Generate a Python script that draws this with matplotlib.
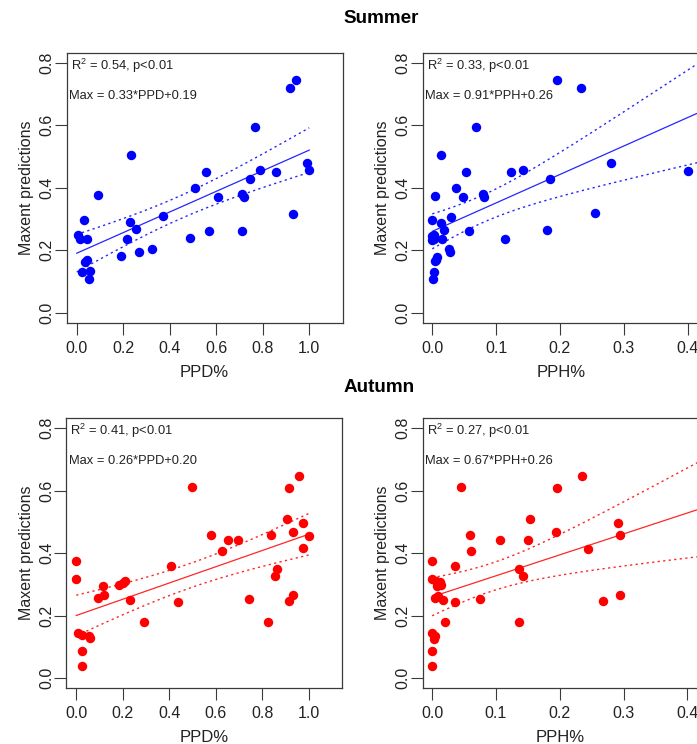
import numpy as np
import matplotlib
matplotlib.use("Agg")
import matplotlib.pyplot as plt

plt.rcParams['font.family'] = ['Liberation Sans', 'DejaVu Sans']
plt.rcParams['mathtext.fontset'] = 'custom'
plt.rcParams['mathtext.rm'] = 'Liberation Sans'
plt.rcParams['mathtext.it'] = 'Liberation Sans:italic'
plt.rcParams['mathtext.bf'] = 'Liberation Sans:bold'

# ---------------- data ----------------
summer_ppd = [0.004, 0.014, 0.033, 0.046, 0.036, 0.046, 0.021, 0.057, 0.054, 0.093,
              0.189, 0.218, 0.229, 0.234, 0.255, 0.266, 0.325, 0.372, 0.487, 0.509,
              0.556, 0.569, 0.606, 0.709, 0.721, 0.709, 0.745, 0.766, 0.788, 0.857,
              0.918, 0.944, 0.928, 0.989, 1.000]
summer_ppd_y = [0.248, 0.237, 0.297, 0.234, 0.163, 0.168, 0.129, 0.134, 0.107, 0.375,
                0.181, 0.235, 0.290, 0.505, 0.266, 0.194, 0.203, 0.308, 0.238, 0.400,
                0.449, 0.262, 0.371, 0.379, 0.371, 0.262, 0.427, 0.595, 0.455, 0.449,
                0.720, 0.745, 0.317, 0.478, 0.455]

summer_pph = [0.000, 0.000, 0.000, 0.002, 0.004, 0.013, 0.014, 0.015, 0.018, 0.004,
              0.007, 0.003, 0.001, 0.026, 0.028, 0.029, 0.037, 0.048, 0.053, 0.057,
              0.069, 0.079, 0.081, 0.114, 0.123, 0.142, 0.179, 0.184, 0.196, 0.233,
              0.255, 0.280, 0.400, 0.006, 0.002]
summer_pph_y = [0.297, 0.244, 0.233, 0.235, 0.374, 0.503, 0.288, 0.235, 0.265, 0.164,
                0.178, 0.130, 0.108, 0.203, 0.194, 0.307, 0.399, 0.371, 0.449, 0.262,
                0.595, 0.379, 0.371, 0.237, 0.449, 0.455, 0.263, 0.426, 0.745, 0.720,
                0.318, 0.478, 0.454, 0.168, 0.248]

autumn_ppd = [0.000, 0.000, 0.007, 0.026, 0.026, 0.026, 0.054, 0.061, 0.094, 0.118,
              0.116, 0.185, 0.200, 0.211, 0.233, 0.290, 0.407, 0.439, 0.496, 0.578,
              0.628, 0.653, 0.696, 0.743, 0.825, 0.836, 0.863, 0.857, 0.906, 0.917,
              0.956, 0.932, 0.917, 0.932, 0.977, 0.977, 1.000]
autumn_ppd_y = [0.375, 0.317, 0.144, 0.137, 0.085, 0.037, 0.135, 0.128, 0.256, 0.267,
                0.293, 0.297, 0.304, 0.309, 0.251, 0.179, 0.357, 0.242, 0.611, 0.459,
                0.407, 0.443, 0.443, 0.254, 0.179, 0.459, 0.349, 0.325, 0.510, 0.608,
                0.647, 0.466, 0.245, 0.267, 0.496, 0.416, 0.455]

autumn_pph = [0.000, 0.000, 0.000, 0.004, 0.003, 0.000, 0.000, 0.006, 0.012, 0.007,
              0.014, 0.004, 0.010, 0.017, 0.020, 0.036, 0.036, 0.045, 0.059, 0.061,
              0.075, 0.106, 0.136, 0.143, 0.136, 0.151, 0.153, 0.194, 0.195, 0.235,
              0.245, 0.268, 0.292, 0.294, 0.295]
autumn_pph_y = [0.375, 0.317, 0.144, 0.135, 0.125, 0.085, 0.037, 0.309, 0.306, 0.293,
                0.299, 0.256, 0.263, 0.251, 0.179, 0.357, 0.242, 0.611, 0.459, 0.405,
                0.254, 0.443, 0.349, 0.325, 0.179, 0.443, 0.509, 0.466, 0.607, 0.645,
                0.414, 0.245, 0.496, 0.457, 0.266]

# fitted equations printed in each panel: (slope, intercept)
fit_summer_ppd = (0.33, 0.19)
fit_summer_pph = (0.91, 0.26)
fit_autumn_ppd = (0.26, 0.20)
fit_autumn_pph = (0.67, 0.26)

r2_labels = ["0.54", "0.33", "0.41", "0.27"]
eq_labels = ["Max = 0.33*PPD+0.19", "Max = 0.91*PPH+0.26",
             "Max = 0.26*PPD+0.20", "Max = 0.67*PPH+0.26"]
x_titles = ["PPD%", "PPH%", "PPD%", "PPH%"]
season_titles = ["Summer", "Autumn"]
ppd_ticks = [0.0, 0.2, 0.4, 0.6, 0.8, 1.0]
pph_ticks = [0.0, 0.1, 0.2, 0.3, 0.4]
y_ticks = [0.0, 0.2, 0.4, 0.6, 0.8]

T_CRIT = 2.03  # ~t(0.975, df~33)

# ---------------- figure ----------------
W, H = 697, 744
fig = plt.figure(figsize=(W / 100, H / 100), dpi=100)
TXT = "#222222"
BOX = "#3a3a3a"


def px_axes(left, top, w, h):
    return fig.add_axes([left / W, 1 - (top + h) / H, w / W, h / H])


def panel(ax, x, y, fit, color, xticks, xlim, xpred, r2, eq, xlab):
    x = np.asarray(x, float)
    y = np.asarray(y, float)
    slope, icpt = fit
    n = len(x)
    resid = y - (icpt + slope * x)
    s = np.sqrt(np.sum(resid ** 2) / (n - 2))
    xbar = x.mean()
    sxx = np.sum((x - xbar) ** 2)
    xp = np.linspace(xpred[0], xpred[1], 200)
    yp = icpt + slope * xp
    half = T_CRIT * s * np.sqrt(1.0 / n + (xp - xbar) ** 2 / sxx)

    ax.plot(x, y, 'o', color=color, markersize=6.8, markeredgewidth=0, zorder=3)
    ax.plot(xp, yp, '-', color=color, lw=0.9, alpha=0.85, zorder=2)
    ax.plot(xp, yp + half, color=color, lw=1.0, alpha=0.85, ls=(0, (1.6, 2.4)), zorder=2)
    ax.plot(xp, yp - half, color=color, lw=1.0, alpha=0.85, ls=(0, (1.6, 2.4)), zorder=2)

    ax.set_xlim(*xlim)
    ax.set_ylim(-0.032, 0.832)
    ax.set_xticks(xticks)
    ax.set_xticklabels(["%.1f" % t for t in xticks])
    ax.set_yticks(y_ticks)
    ax.set_yticklabels(["%.1f" % t for t in y_ticks], rotation=90, va='center')
    ax.tick_params(axis='both', direction='out', length=8.6, width=0.8,
                   color=BOX, labelcolor=TXT, labelsize=11.5)
    ax.tick_params(axis='x', pad=4.4)
    ax.tick_params(axis='y', pad=0.0)
    for sp in ax.spines.values():
        sp.set_color(BOX)
        sp.set_linewidth(0.9)
    ax.set_xlabel(xlab, fontsize=12, color=TXT, labelpad=6.4)
    ax.set_ylabel("Maxent predictions", fontsize=11.5, color=TXT, labelpad=4)

    ax.annotate("R$^2$ = %s, p<0.01" % r2, xy=(0, 1), xycoords='axes fraction',
                xytext=(3.5 * 0.72 + 0.5, -13 * 0.72), textcoords='offset points',
                ha='left', va='center', fontsize=9.3, color=TXT)
    ax.annotate(eq, xy=(0, 1), xycoords='axes fraction',
                xytext=(2 * 0.72 + 0.5, -43 * 0.72), textcoords='offset points',
                ha='left', va='center', fontsize=9.3, color=TXT)


ppd_xlim = (-0.044, 1.143)
pph_xlim = (-0.015, 0.4175)

ax1 = px_axes(66.5, 52.6, 276, 270)
panel(ax1, summer_ppd, summer_ppd_y, fit_summer_ppd, "#0000ff", ppd_ticks, ppd_xlim,
      (0.0, 1.0), r2_labels[0], eq_labels[0], x_titles[0])
ax2 = px_axes(422.7, 52.6, 276, 270)
panel(ax2, summer_pph, summer_pph_y, fit_summer_pph, "#0000ff", pph_ticks, pph_xlim,
      (0.0, 0.45), r2_labels[1], eq_labels[1], x_titles[1])
ax3 = px_axes(66.0, 418.0, 276, 270)
panel(ax3, autumn_ppd, autumn_ppd_y, fit_autumn_ppd, "#ff0000", ppd_ticks, ppd_xlim,
      (0.0, 1.0), r2_labels[2], eq_labels[2], x_titles[2])
ax4 = px_axes(422.5, 418.0, 276, 270)
panel(ax4, autumn_pph, autumn_pph_y, fit_autumn_pph, "#ff0000", pph_ticks, pph_xlim,
      (0.0, 0.45), r2_labels[3], eq_labels[3], x_titles[3])

fig.text(381.5 / W, 1 - 23.3 / H, season_titles[0], ha='center', va='baseline',
         fontsize=13.6, fontweight='bold', color='black')
fig.text(379.5 / W, 1 - 391.7 / H, season_titles[1], ha='center', va='baseline',
         fontsize=13.6, fontweight='bold', color='black')

fig.savefig("out.png", dpi=100, facecolor='white')
